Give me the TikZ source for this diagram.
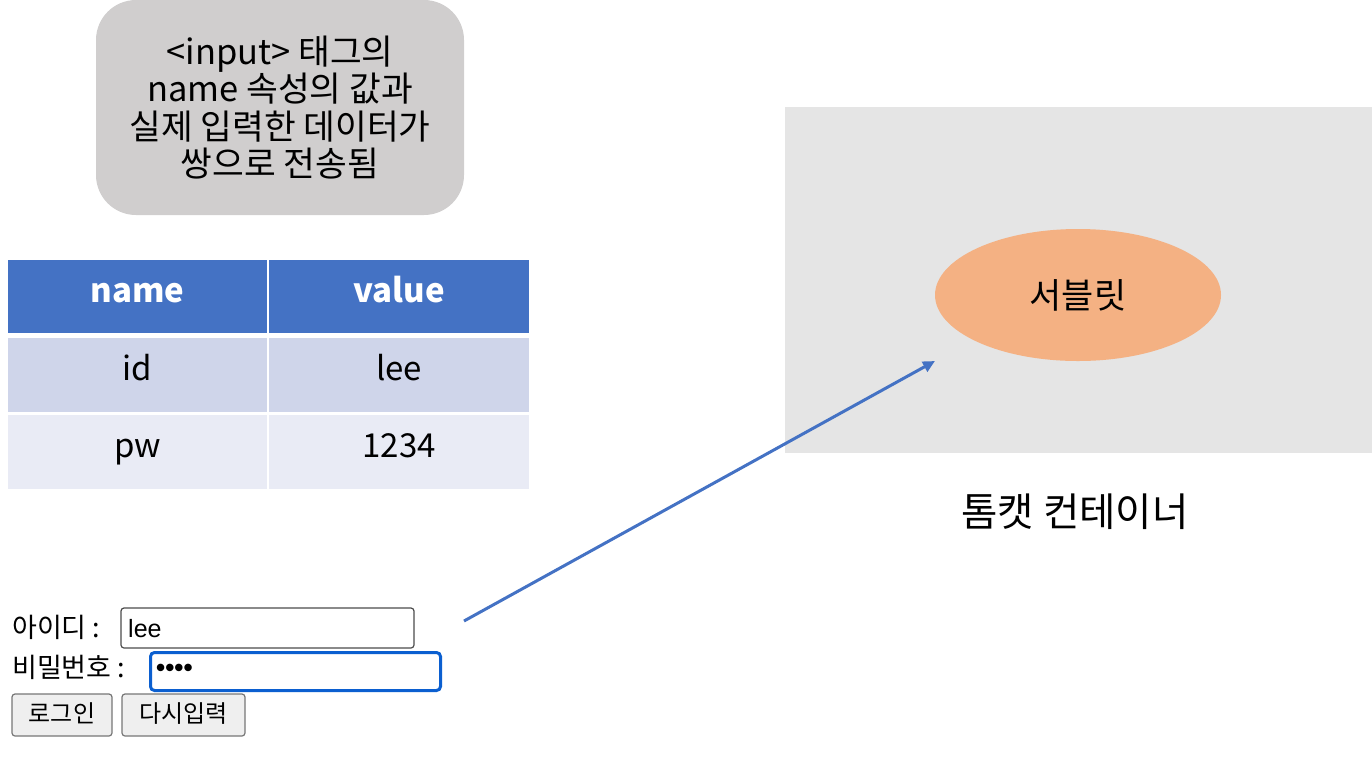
\documentclass[tikz,border=0pt]{standalone}
\usepackage{fontspec}
\setmainfont{Noto Sans CJK KR}
\newfontfamily\formfont{Liberation Sans}
\newfontfamily\krfont{Noto Sans CJK KR}
\usetikzlibrary{shapes.geometric,arrows.meta}
\definecolor{notegray}{HTML}{D0CECE}
\definecolor{hdrblue}{HTML}{4472C4}
\definecolor{rowone}{HTML}{CFD5EA}
\definecolor{rowtwo}{HTML}{E9EBF5}
\definecolor{contgray}{HTML}{E5E5E5}
\definecolor{servlet}{HTML}{F4B183}
\definecolor{focusblue}{HTML}{0B5FD0}
\definecolor{btnfill}{HTML}{EFEFEF}
\definecolor{btnline}{HTML}{767676}
\tikzset{
  cell/.style={draw=white, line width=1.5pt, minimum width=261pt, minimum height=75pt, inner sep=0pt, text height=11pt, text depth=0pt, font=\fontsize{33}{38}\selectfont},
  hdr/.style={cell, fill=hdrblue, text=white, font=\fontsize{33}{38}\selectfont\bfseries},
  lbl/.style={anchor=base west, inner sep=0pt, font=\krfont\fontsize{27}{30}\selectfont},
  field/.style={draw=black!70, line width=1.2pt, rounded corners=3pt, fill=white},
  btn/.style={draw=btnline, line width=1.2pt, rounded corners=3pt, fill=btnfill, font=\krfont\fontsize{24}{28}\selectfont, inner sep=0pt, minimum height=42pt, text height=14pt, text depth=0pt}
}
\begin{document}
\begin{tikzpicture}[x=1pt,y=-1pt]
\useasboundingbox (0,0) rectangle (1372,772);
% note box
\node[fill=notegray, rounded corners=40pt, minimum width=368pt, minimum height=215pt, inner sep=0pt, align=center, font=\fontsize{34.5}{37.5}\selectfont] (note) at (280,107.5)
  {<input> 태그의\\name 속성의 값과\\실제 입력한 데이터가\\쌍으로 전송됨};
% table
\node[hdr] (hname) at (137.5,296.5) {name};
\node[hdr] (hvalue) at (399,296.5) {value};
\node[cell, fill=rowone] (c11) at (137.5,375) {id};
\node[cell, fill=rowone] (c12) at (399,375) {lee};
\node[cell, fill=rowtwo] (c21) at (137.5,452) {pw};
\node[cell, fill=rowtwo] (c22) at (399,452) {1234};
% container
\node[fill=contgray, minimum width=587pt, minimum height=346pt, inner sep=0pt] (cont) at (1078.5,280) {};
\node[ellipse, fill=servlet, minimum width=286pt, minimum height=132pt, inner sep=0pt, font=\fontsize{35}{40}\selectfont] (srv) at (1078,295) {서블릿};
\node[font=\fontsize{39.5}{44}\selectfont] (contlbl) at (1075,512) {톰캣 컨테이너};
% form
\node[lbl] (idlbl) at (12,637) {아이디 :};
\node[field, minimum width=293pt, minimum height=40pt, inner sep=0pt] (idbox) at (267.5,628) {};
\node[anchor=base west, inner sep=0pt, font=\formfont\fontsize{25}{28}\selectfont] (idval) at (128,637) {lee};
\node[lbl] (pwlbl) at (12,677) {비밀번호 :};
\node[draw=focusblue, line width=3pt, rounded corners=4pt, fill=white, minimum width=290pt, minimum height=38pt, inner sep=0pt] (pwbox) at (295.5,671.5) {};
\node[anchor=west, inner sep=0pt, font=\formfont\fontsize{26}{28}\selectfont\bfseries] (pwval) at (156,670) {••••};
\node[btn, minimum width=100pt] (login) at (62,715) {로그인};
\node[btn, minimum width=123pt] (reset) at (183.5,715) {다시입력};
% arrow
\coordinate (from) at (464,621);
\coordinate (to) at (935,361);
\draw[hdrblue, line width=3pt, -{Triangle[length=12pt,width=11pt]}] (from) -- (to);
\end{tikzpicture}
\end{document}
